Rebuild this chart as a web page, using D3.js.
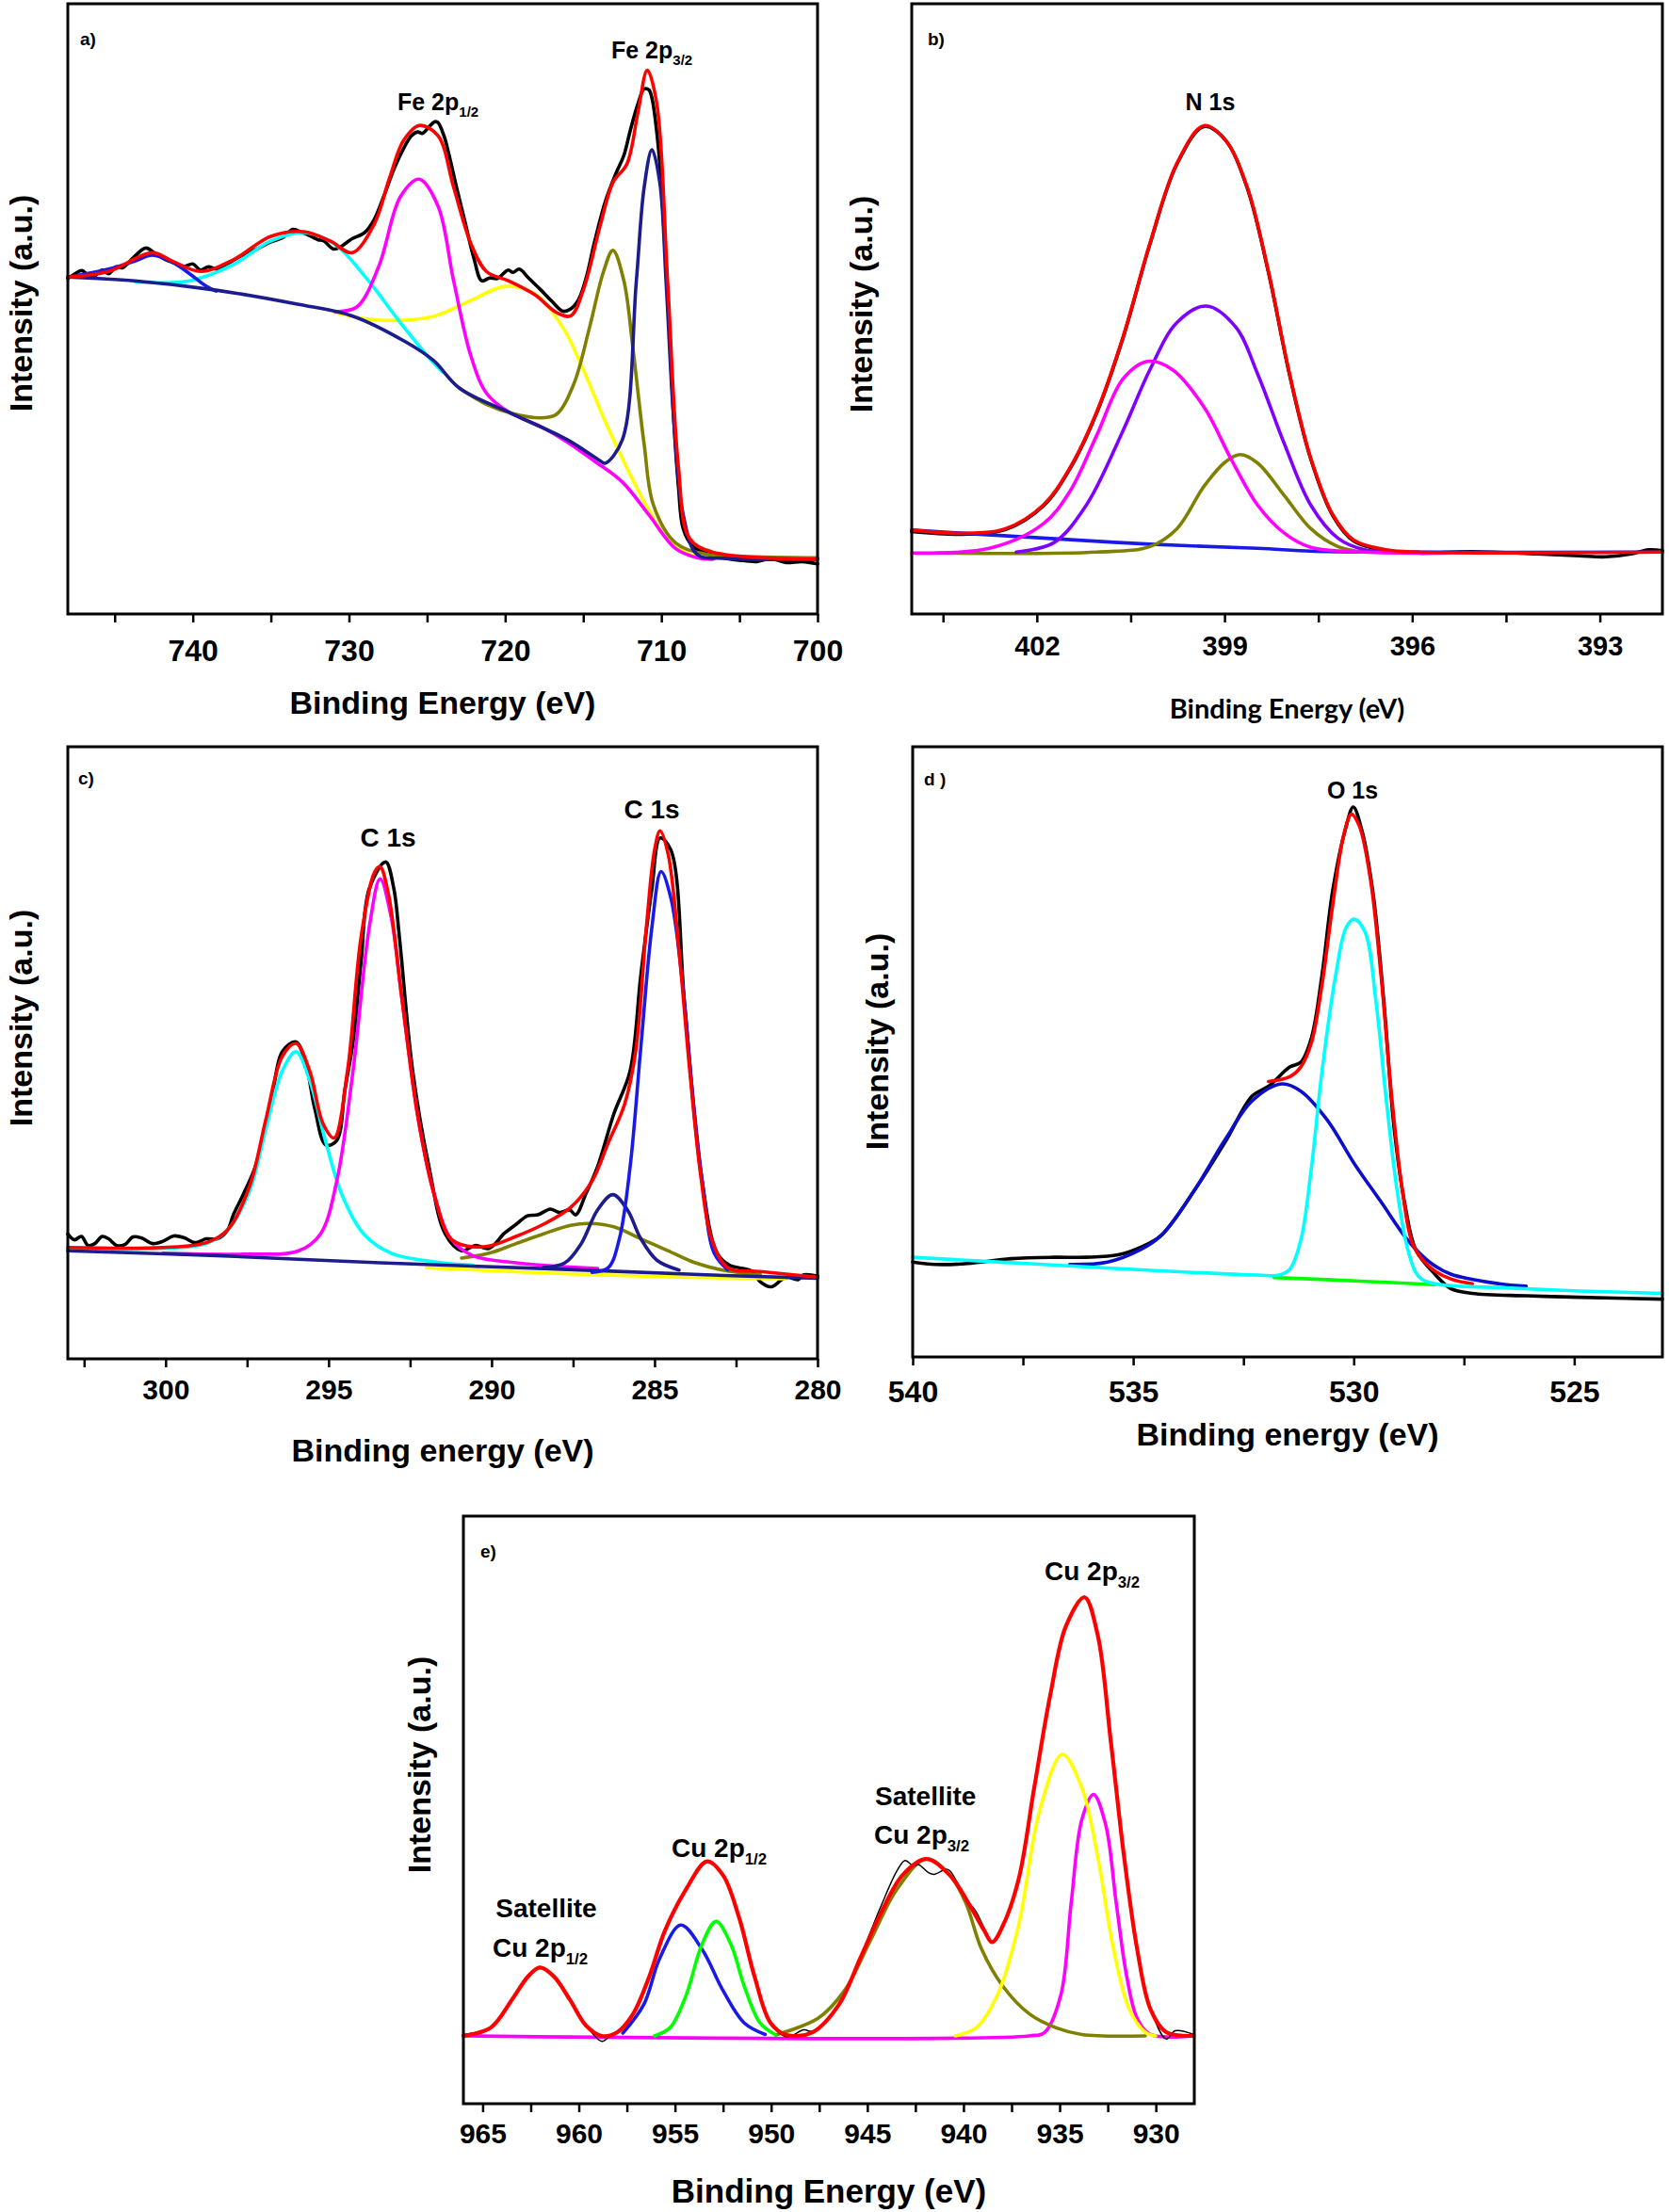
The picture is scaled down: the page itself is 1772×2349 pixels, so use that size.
<!DOCTYPE html>
<html>
<head>
<meta charset="utf-8">
<script src="https://cdn.jsdelivr.net/npm/d3@7/dist/d3.min.js"></script>
<style>
  body { margin: 0; background: #fff; }
  svg { display: block; }
  text { font-family: "Liberation Sans", Arial, sans-serif; font-weight: bold; fill: #000; }
</style>
</head>
<body>
<svg id="fig" width="1772" height="2349"></svg>
<script>
// ---- panel a : Fe 2p  (x = binding energy eV, y = counts a.u.)
var aTicks = [740, 730, 720, 710, 700];
var aMinor = [745, 735, 725, 715, 705];
var aRaw = [[748.0,717],[747.5,728],[747.1,734],[746.7,724],[746.3,722],[745.8,735],[745.4,727],[744.9,742],[744.5,740],[743.7,765],[743.0,782],[742.4,770],[741.9,760],[741.2,750],[740.6,742],[740.0,748],[739.5,735],[739.0,742],[738.5,737],[737.6,752],[736.8,767],[735.9,780],[735.0,795],[734.2,805],[733.6,822],[733.0,815],[732.6,810],[732.0,800],[731.6,797],[731.0,780],[730.5,785],[730.1,795],[729.8,802],[729.0,815],[728.4,842],[727.8,890],[727.1,952],[726.5,995],[726.0,1022],[725.6,1030],[725.3,1027],[724.9,1040],[724.5,1052],[724.3,1050],[723.9,1020],[723.6,982],[723.1,910],[722.6,842],[722.0,760],[721.5,712],[721.0,718],[720.5,717],[719.8,735],[719.5,730],[719.1,737],[718.5,718],[717.7,692],[717.0,668],[716.3,647],[715.8,652],[715.3,672],[714.8,720],[714.3,792],[713.6,880],[712.9,942],[712.4,980],[712.0,1032],[711.5,1090],[711.1,1122],[710.8,1120],[710.6,1102],[710.2,1000],[709.9,862],[709.5,620],[709.2,412],[708.9,270],[708.6,182],[708.0,145],[707.3,132],[706.0,120],[705.0,115],[703.9,112],[703.0,118],[702.0,110],[701.0,112],[700.0,107]];
var aFit = [[748.0,720],[745.4,732],[742.6,772],[741.3,754],[739.5,732],[737.4,757],[735.0,807],[732.9,817],[731.2,797],[729.8,772],[728.4,832],[727.4,932],[726.5,1012],[725.5,1044],[724.3,1022],[723.3,912],[722.2,792],[721.2,732],[719.8,712],[718.1,682],[716.7,644],[715.8,637],[715.0,692],[713.9,832],[713.1,922],[712.2,962],[711.5,1072],[710.9,1162],[710.3,1092],[709.6,712],[708.9,312],[708.2,162],[706.7,132],[700.0,117]];
var aBg = [[748.0,720],[743.7,712],[738.5,692],[733.3,662],[729.8,637],[726.4,582],[724.6,542],[722.9,482],[719.5,427],[716.0,372],[713.9,327],[713.6,322],[712.5,372],[711.6,712],[711.1,912],[710.6,992],[710.1,922],[709.7,712],[709.2,412],[708.6,212],[707.7,127],[706.0,119],[700.0,117]];
var aSat = [[748.0,720],[745.4,737],[743.7,754],[742.6,767],[741.3,752],[740.2,727],[739.2,702],[738.5,690]];
var aCyan = [[743.7,710],[740.2,712],[737.4,747],[735.0,797],[732.9,815],[730.9,790],[728.8,714],[726.7,622],[724.6,537],[724.0,517]];
var aMag = [[730.9,646],[729.5,656],[728.1,742],[726.7,892],[725.5,929],[724.3,872],[723.3,712],[722.2,552],[721.2,472],[719.8,432],[717.7,400],[716.0,367],[714.3,327],[712.5,282],[710.8,212],[709.1,140],[707.7,120],[706.7,117]];
var aYellow = [[730.9,644],[728.1,628],[724.6,636],[722.2,670],[720.0,700],[718.1,684],[716.3,612],[715.0,522],[713.6,412],[712.2,312],[710.8,222],[709.4,152],[707.7,122],[706.7,117]];
var aOlive = [[722.9,482],[721.2,448],[719.5,428],[717.7,419],[716.7,427],[715.6,492],[714.6,612],[713.7,732],[713.1,777],[712.4,712],[711.8,562],[711.1,362],[710.5,232],[709.1,152],[707.3,129],[703.9,122],[700.0,120]];

// ---- panel b : N 1s
var bTicks = [402, 399, 396, 393];
var bMinor = [403.5, 400.5, 397.5, 394.5];
var bRaw = [[404.0,176],[403.19,170],[402.50,180],[401.90,230],[401.47,310],[401.04,430],[400.62,590],[400.19,790],[399.76,960],[399.33,1040],[398.99,1012],[398.64,910],[398.30,730],[397.96,510],[397.62,330],[397.27,210],[396.93,155],[396.42,135],[395.90,130],[395.05,133],[394.0,128],[393.33,124],[392.90,122],[392.5,128],[392.22,137],[392.0,135]];
var bFit = [[404.0,179],[403.19,172],[402.50,182],[401.90,232],[401.47,312],[401.04,432],[400.62,592],[400.19,792],[399.76,962],[399.33,1042],[398.99,1012],[398.64,912],[398.30,732],[397.96,512],[397.62,332],[397.27,212],[396.93,157],[396.42,137],[395.90,132],[392.0,132]];
var bBg = [[404.0,179],[401.90,162],[400.19,149],[398.47,140],[397.62,134],[396.76,132],[392.0,132]];
var bMag = [[404.0,130],[402.76,140],[401.90,192],[401.47,262],[401.04,382],[400.62,502],[400.23,539],[399.84,522],[399.33,442],[398.90,332],[398.47,232],[398.04,172],[397.62,142],[396.76,132],[395.47,130]];
var bPurple = [[402.33,132],[401.73,152],[401.21,232],[400.62,392],[400.19,522],[399.76,622],[399.29,657],[398.82,612],[398.47,512],[398.04,362],[397.62,232],[397.19,162],[396.76,137],[395.90,132]];
var bOlive = [[403.61,130],[401.04,132],[400.19,144],[399.76,182],[399.33,272],[398.99,324],[398.75,340],[398.47,322],[398.04,252],[397.62,182],[397.19,144],[396.76,132]];

// ---- panel c : C 1s
var cTicks = [300, 295, 290, 285, 280];
var cMinor = [302.5, 297.5, 292.5, 287.5, 282.5];
var cRaw = [[303.0,260],[302.8,248],[302.58,255],[302.38,236],[302.17,240],[301.95,255],[301.75,250],[301.5,236],[301.25,238],[301.0,254],[300.75,252],[300.4,240],[300.08,245],[299.75,256],[299.42,252],[299.1,242],[298.75,250],[298.42,250],[298.1,268],[297.92,300],[297.6,345],[297.25,400],[296.75,540],[296.42,640],[296.0,660],[295.7,615],[295.42,520],[295.08,445],[294.75,455],[294.5,560],[294.25,660],[294.0,830],[293.75,980],[293.25,1035],[293.0,980],[292.83,880],[292.42,600],[291.92,400],[291.42,260],[290.92,225],[290.5,236],[290.08,230],[289.6,262],[289.25,280],[288.9,298],[288.58,300],[288.2,312],[287.92,305],[287.6,310],[287.42,300],[287.1,345],[286.75,400],[286.25,510],[285.75,600],[285.42,800],[285.08,980],[284.83,1085],[284.50,1060],[284.08,740],[283.58,390],[283.08,220],[282.7,195],[282.42,190],[282.0,182],[281.75,160],[281.42,150],[281.1,165],[280.92,170],[280.6,165],[280.42,175],[280.0,172]];
var cFit = [[303.0,232],[300.08,232],[298.75,242],[298.08,270],[297.42,360],[296.92,500],[296.42,630],[296.0,657],[295.58,600],[295.17,490],[294.83,460],[294.42,600],[294.0,880],[293.58,1015],[293.42,1025],[293.17,970],[292.75,750],[292.25,500],[291.75,340],[291.25,250],[290.75,235],[290.08,235],[289.25,255],[288.42,280],[287.58,315],[286.92,370],[286.42,450],[285.92,530],[285.58,640],[285.25,900],[285.0,1060],[284.83,1100],[284.58,1050],[284.25,850],[283.92,600],[283.58,380],[283.25,250],[282.75,190],[281.75,182],[280.0,170]];
var cBg = [[303.0,225],[298.42,215],[293.42,200],[288.42,188],[283.42,175],[280.0,168]];
var cYellow = [[292.0,190],[288.0,178],[284.0,170],[281.0,167]];
var cCyan = [[303.0,228],[300.08,230],[298.75,240],[298.08,270],[297.42,350],[296.92,480],[296.42,600],[296.0,640],[295.58,580],[295.08,450],[294.58,340],[293.92,260],[293.08,220],[291.75,202],[290.58,195]];
var cMag = [[300.08,220],[297.58,218],[295.92,225],[295.25,260],[294.75,370],[294.25,600],[293.75,900],[293.42,1000],[293.08,920],[292.75,750],[292.25,500],[291.75,340],[291.25,250],[290.58,215],[289.25,200],[286.75,188]];
var cOlive = [[290.92,210],[290.08,220],[289.25,240],[288.42,260],[287.58,278],[287.0,282],[286.25,275],[285.42,250],[284.58,225],[283.75,200],[282.92,185],[281.75,175]];
var cNavy = [[288.42,190],[287.75,200],[287.25,240],[286.75,310],[286.28,342],[285.83,310],[285.42,250],[284.92,205],[284.25,185]];
var cBlue = [[286.92,180],[286.42,190],[286.08,250],[285.75,400],[285.42,650],[285.08,900],[284.80,1015],[284.50,960],[284.17,800],[283.83,550],[283.50,350],[283.17,220],[282.75,185]];

// ---- panel d : O 1s
var dTicks = [540, 535, 530, 525];
var dMinor = [537.5, 532.5, 527.5];
var dRaw = [[540.0,197],[539.48,192],[538.75,194],[537.77,204],[536.80,207],[536.07,207],[535.34,212],[534.85,227],[534.37,252],[533.64,342],[532.91,447],[532.30,542],[531.93,562],[531.45,602],[531.20,612],[530.96,662],[530.72,792],[530.47,972],[530.17,1102],[530.01,1142],[529.81,1092],[529.56,962],[529.32,742],[529.08,472],[528.83,312],[528.59,222],[528.16,172],[527.80,142],[527.31,132],[526.09,127],[524.88,124],[523.0,120]];
var dFit = [[531.93,572],[531.45,582],[531.20,602],[530.96,652],[530.72,772],[530.47,942],[530.23,1082],[530.05,1127],[529.87,1102],[529.62,992],[529.38,792],[529.14,542],[528.89,342],[528.65,232],[528.28,187],[527.80,162],[527.31,152]];
var dCyan = [[540.0,207],[537.04,192],[534.61,180],[532.18,170],[531.69,170],[531.45,182],[531.20,242],[530.96,392],[530.72,592],[530.41,792],[530.17,892],[529.99,909],[529.74,882],[529.50,742],[529.26,532],[529.01,342],[528.77,222],[528.53,167],[528.16,152],[526.70,144],[524.88,137],[523.0,132]];
var dGreen = [[531.81,165],[529.74,157],[528.16,150]];
var dBlue = [[536.44,192],[535.58,197],[534.85,222],[534.37,252],[533.64,342],[532.91,452],[532.30,532],[531.63,567],[531.20,552],[530.60,492],[529.99,402],[529.38,322],[528.77,242],[528.28,197],[527.80,172],[526.70,152],[526.09,147]];

// ---- panel e : Cu 2p
var eTicks = [965, 960, 955, 950, 945, 940, 935, 930];
var eMinor = [962.5, 957.5, 952.5, 947.5, 942.5, 937.5, 932.5];
var eRaw = [[966.0,150],[964.57,166],[963.48,228],[962.65,278],[962.02,297],[961.28,278],[960.46,228],[959.64,172],[958.81,135],[958.3,150],[957.99,157],[957.17,197],[956.34,277],[955.52,377],[954.42,467],[953.33,527],[952.50,497],[951.68,407],[950.86,277],[950.03,177],[949.21,145],[948.3,160],[947.84,157],[946.47,217],[945.37,317],[944.27,430],[943.45,505],[943.04,527],[942.6,515],[942.35,518],[941.8,500],[941.53,497],[940.9,508],[940.71,505],[939.88,445],[939.33,415],[938.92,380],[938.51,352],[937.96,387],[937.14,487],[936.32,687],[935.49,887],[934.67,1037],[933.71,1099],[933.02,1017],[932.34,787],[931.65,537],[930.97,337],[930.28,207],[929.46,140],[929.0,158],[928.03,150]];
var eFit = [[966.0,147],[964.57,165],[963.48,225],[962.65,275],[962.02,295],[961.28,275],[960.46,225],[959.64,170],[958.81,147],[957.99,155],[957.17,195],[956.34,275],[955.52,375],[954.42,465],[953.33,525],[952.50,495],[951.68,405],[950.86,275],[950.03,175],[949.21,149],[947.84,155],[946.47,215],[945.37,315],[944.27,415],[943.17,495],[941.94,530],[940.71,495],[939.61,425],[938.92,375],[938.51,350],[937.96,385],[937.14,485],[936.32,685],[935.49,885],[934.67,1035],[933.71,1097],[933.02,1015],[932.34,785],[931.65,535],[930.97,335],[930.28,205],[929.46,155],[928.03,147]];
var eMag = [[966.0,147],[936.59,147],[935.77,155],[934.94,235],[934.40,435],[933.85,615],[933.24,670],[932.61,605],[932.06,435],[931.51,275],[930.97,185],[930.28,150],[928.03,147]];
var eGreen = [[956.07,147],[955.25,165],[954.42,235],[953.60,345],[952.86,395],[952.09,345],[951.40,255],[950.58,175],[949.76,149]];
var eBlue = [[957.71,153],[956.62,215],[955.79,315],[954.70,387],[953.60,335],[952.50,245],[951.40,175],[950.31,150]];
var eOlive = [[949.76,149],[947.56,185],[946.19,245],[944.82,355],[943.45,465],[941.94,530],[940.71,495],[939.88,435],[939.06,335],[937.96,255],[936.59,195],[935.22,165],[933.85,150],[930.55,147]];
var eYellow = [[940.43,147],[939.33,165],[938.24,235],[937.14,385],[936.04,635],[934.86,757],[933.85,685],[933.02,535],[932.20,335],[931.38,205],[930.55,155],[930.01,147]];

/* helper method to make translating easier */
var translate = function(x, y) { return "translate(" + x + "," + y + ")"; };

var svg = d3.select("#fig");

var C = {
  black: "#000000", red: "#ff0000", navy: "#1c1c8e", blue: "#1a1ae6",
  cyan: "#00ffff", magenta: "#ff00ff", yellow: "#ffff00", olive: "#808000",
  purple: "#7f00ff", green: "#00ff00"
};

function drawPanel(p) {
  var x = d3.scaleLinear().domain(p.domain).range([p.x0, p.x1]);
  var y = d3.scaleLinear().domain([0, p.ymax]).range([p.y1, p.y0]);

  var g = svg.append("g").attr("class", "panel");

  var smooth = d3.line()
    .x(function(d) { return x(d[0]); })
    .y(function(d) { return y(d[1]); })
    .curve(d3.curveCatmullRom.alpha(0.5));

  p.series.forEach(function(s) {
    g.append("path")
      .attr("d", smooth(s.data))
      .attr("fill", "none")
      .attr("stroke", s.color)
      .attr("stroke-width", s.w || 3.6)
      .attr("stroke-linejoin", "round")
      .attr("stroke-linecap", "round");
  });

  // frame
  g.append("rect")
    .attr("x", p.x0).attr("y", p.y0)
    .attr("width", p.x1 - p.x0).attr("height", p.y1 - p.y0)
    .attr("fill", "none").attr("stroke", "#000").attr("stroke-width", 3);

  var gx = g.append("g").attr("transform", translate(0, p.y1))
    .call(d3.axisBottom(x).tickValues(p.ticks).tickSize(9).tickPadding(p.pad).tickFormat(d3.format("d")));
  var gm = g.append("g").attr("transform", translate(0, p.y1))
    .call(d3.axisBottom(x).tickValues(p.minor).tickSize(9).tickFormat(""));
  [gx, gm].forEach(function(a) {
    a.select(".domain").remove();
    a.selectAll("line").attr("stroke", "#000").attr("stroke-width", 2.5);
  });
  gx.selectAll("text")
    .style("font-size", p.tickSize + "px")
    .style("font-weight", "bold")
    .attr("fill", "#000");

  g.append("text")
    .attr("x", (p.x0 + p.x1) / 2)
    .attr("y", p.titleY)
    .attr("text-anchor", "middle")
    .style("font-size", p.titleSize + "px")
    .style("font-family", p.titleFont || null)
    .text(p.title);

  g.append("text")
    .attr("transform", translate(p.ylabX, p.ylabY) + " rotate(-90)")
    .attr("text-anchor", "middle")
    .attr("dominant-baseline", "central")
    .style("font-size", "34px")
    .text("Intensity (a.u.)");

  g.append("text")
    .attr("x", p.tagX).attr("y", p.tagY)
    .style("font-size", "19px")
    .text(p.tag);

  p.notes.forEach(function(n) {
    var t = g.append("text")
      .attr("x", n.x).attr("y", n.y)
      .attr("text-anchor", n.anchor || "start")
      .style("font-size", n.size + "px");
    t.append("tspan").text(n.text);
    if (n.sub) {
      t.append("tspan")
        .attr("dy", n.size * 0.28)
        .style("font-size", (n.size * 0.6) + "px")
        .text(n.sub);
    }
  });
}

var panels = [
  { tag: "a)", domain: [748, 700], ymax: 1304, x0: 72, x1: 868, y0: 4, y1: 652,
    ticks: aTicks, minor: aMinor, pad: 18, tickSize: 32,
    title: "Binding Energy (eV)", titleY: 758, titleSize: 34,
    ylabX: 22, ylabY: 322, tagX: 85, tagY: 48,
    series: [
      { data: aRaw, color: C.black },
      { data: aYellow, color: C.yellow },
      { data: aCyan, color: C.cyan },
      { data: aMag, color: C.magenta },
      { data: aOlive, color: C.olive },
      { data: aSat, color: C.blue },
      { data: aBg, color: C.navy },
      { data: aFit, color: C.red }
    ],
    notes: [
      { x: 422, y: 117, size: 25, text: "Fe 2p", sub: "1/2" },
      { x: 649, y: 62, size: 25, text: "Fe 2p", sub: "3/2" }
    ] },
  { tag: "b)", domain: [404, 392], ymax: 1302, x0: 968, x1: 1765, y0: 4, y1: 652,
    ticks: bTicks, minor: bMinor, pad: 14, tickSize: 29,
    title: "Binding Energy (eV)", titleY: 763, titleSize: 29, titleFont: "Lato, 'Open Sans', sans-serif",
    ylabX: 914, ylabY: 323, tagX: 985, tagY: 48,
    series: [
      { data: bRaw, color: C.black },
      { data: bBg, color: C.blue },
      { data: bOlive, color: C.olive },
      { data: bPurple, color: C.purple },
      { data: bMag, color: C.magenta },
      { data: bFit, color: C.red }
    ],
    notes: [ { x: 1285, y: 117, size: 25, text: "N 1s", anchor: "middle" } ] },
  { tag: "c)", domain: [303, 280], ymax: 1275, x0: 72, x1: 868, y0: 793, y1: 1443,
    ticks: cTicks, minor: cMinor, pad: 13, tickSize: 30,
    title: "Binding energy (eV)", titleY: 1552, titleSize: 34,
    ylabX: 22, ylabY: 1081, tagX: 83, tagY: 833,
    series: [
      { data: cRaw, color: C.black },
      { data: cYellow, color: C.yellow },
      { data: cOlive, color: C.olive },
      { data: cCyan, color: C.cyan },
      { data: cMag, color: C.magenta },
      { data: cBg, color: C.navy },
      { data: cNavy, color: C.navy },
      { data: cBlue, color: C.blue },
      { data: cFit, color: C.red }
    ],
    notes: [
      { x: 412, y: 899, size: 28, text: "C 1s", anchor: "middle" },
      { x: 692, y: 869, size: 28, text: "C 1s", anchor: "middle" }
    ] },
  { tag: "d )", domain: [540, 523], ymax: 1267, x0: 969, x1: 1765, y0: 793, y1: 1441,
    ticks: dTicks, minor: dMinor, pad: 16, tickSize: 32,
    title: "Binding energy (eV)", titleY: 1535, titleSize: 34,
    ylabX: 931, ylabY: 1106, tagX: 981, tagY: 834,
    series: [
      { data: dRaw, color: C.black },
      { data: dGreen, color: C.green },
      { data: dBlue, color: "#0d0dcc" },
      { data: dFit, color: C.red },
      { data: dCyan, color: C.cyan }
    ],
    notes: [ { x: 1436, y: 848, size: 25, text: "O 1s", anchor: "middle" } ] },
  { tag: "e)", domain: [966, 928], ymax: 1273, x0: 492, x1: 1268, y0: 1610, y1: 2234,
    ticks: eTicks, minor: eMinor, pad: 12, tickSize: 30,
    title: "Binding Energy (eV)", titleY: 2339, titleSize: 35,
    ylabX: 445, ylabY: 1874, tagX: 510, tagY: 1654,
    series: [
      { data: eMag, color: C.magenta },
      { data: eOlive, color: C.olive },
      { data: eYellow, color: C.yellow },
      { data: eBlue, color: C.blue },
      { data: eGreen, color: C.green },
      { data: eRaw, color: C.black, w: 1.5 },
      { data: eFit, color: C.red, w: 4.2 }
    ],
    notes: [
      { x: 580, y: 2036, size: 28, text: "Satellite", anchor: "middle" },
      { x: 523, y: 2078, size: 28, text: "Cu 2p", sub: "1/2" },
      { x: 713, y: 1972, size: 28, text: "Cu 2p", sub: "1/2" },
      { x: 929, y: 1917, size: 28, text: "Satellite" },
      { x: 928, y: 1958, size: 28, text: "Cu 2p", sub: "3/2" },
      { x: 1109, y: 1678, size: 28, text: "Cu 2p", sub: "3/2" }
    ] }
];

panels.forEach(drawPanel);
</script>
</body>
</html>
